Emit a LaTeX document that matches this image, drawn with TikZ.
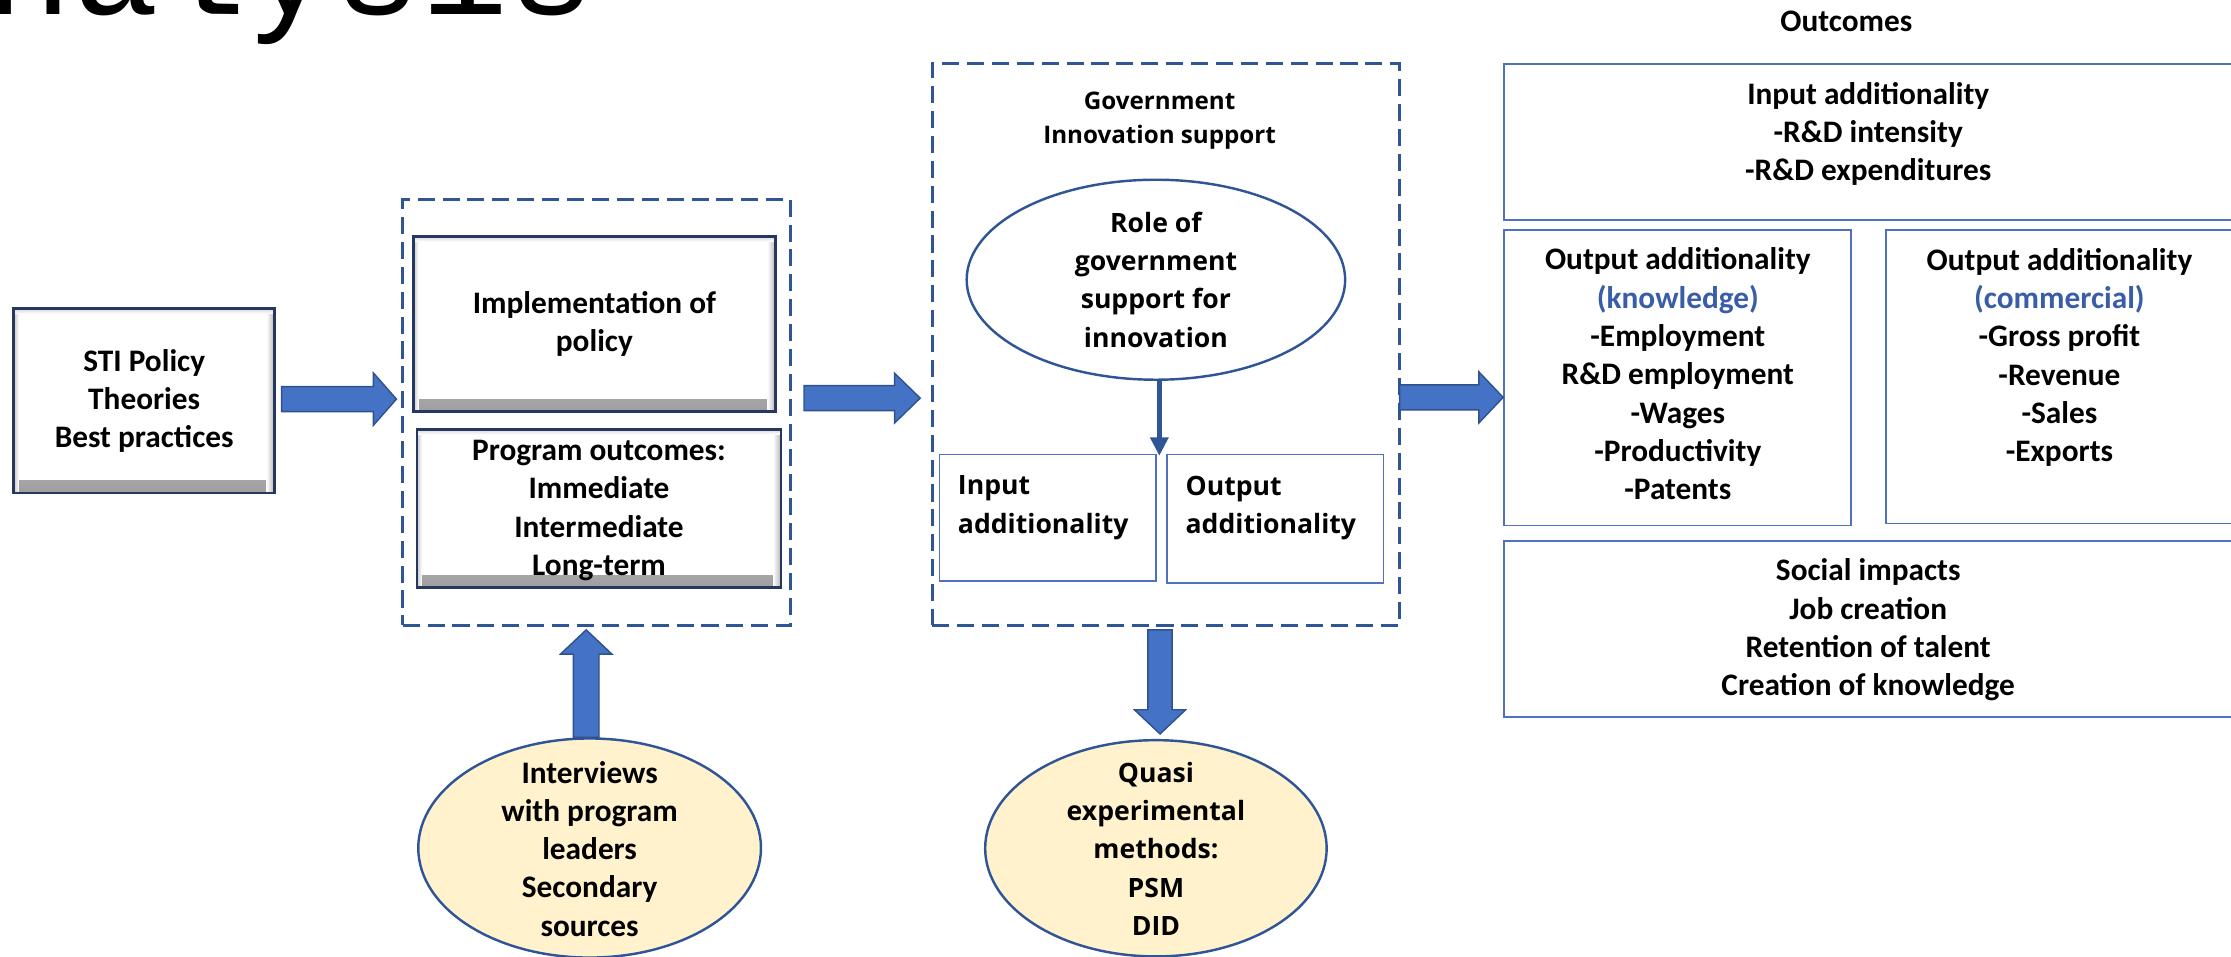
\documentclass[tikz,border=0pt]{standalone}
\usepackage{fontspec}
\setmainfont{Carlito}
\newfontfamily\osans{Open Sans}
\newfontfamily\monof{Liberation Mono}
\usetikzlibrary{calc,fit,shapes.geometric,arrows.meta}
\definecolor{dblue}{HTML}{2F5597}
\definecolor{ablue}{HTML}{4472C4}
\definecolor{aedge}{HTML}{2F528F}
\definecolor{lyel}{HTML}{FFF2CC}
\definecolor{bnavy}{HTML}{26385F}
\definecolor{tblue}{HTML}{4F71BE}
\definecolor{kblue}{HTML}{3A5DA8}
\newcommand{\calb}{\fontsize{15.4pt}{18.83pt}\selectfont\bfseries}
\newcommand{\osb}{\osans\bfseries\fontsize{13.09pt}{18.83pt}\selectfont}
\newcommand{\govf}{\osans\bfseries\fontsize{11.9pt}{16.94pt}\selectfont}
\newcommand{\hbarrow}[5]{%
  \draw[barrow] ($(#1)+(0,-#3)$) -- ($(#2)+(-#5,-#3)$) -- ($(#2)+(-#5,-#4)$) -- (#2)
    -- ($(#2)+(-#5,#4)$) -- ($(#2)+(-#5,#3)$) -- ($(#1)+(0,#3)$) -- cycle;}
\newcommand{\vbarrow}[5]{%
  \draw[barrow] ($(#1)+(-#3,0)$) -- ($(#2)+(-#3,#5)$) -- ($(#2)+(-#4,#5)$) -- (#2)
    -- ($(#2)+(#4,#5)$) -- ($(#2)+(#3,#5)$) -- ($(#1)+(#3,0)$) -- cycle;}
\begin{document}
\begin{tikzpicture}[x=0.7pt,y=-0.7pt,
  bevel/.style={draw=bnavy, line width=1.3pt, fill=white, inner sep=0pt, align=center, font=\calb,
    path picture={
      \shade[top color=white, bottom color=black!38] ([yshift=6pt]path picture bounding box.south west) rectangle (path picture bounding box.south east);
      \shade[left color=white, right color=black!30] ([xshift=-4pt]path picture bounding box.north east) rectangle (path picture bounding box.south east);
      \shade[left color=black!22, right color=white] (path picture bounding box.north west) rectangle ([xshift=2.5pt]path picture bounding box.south west);
      \shade[top color=black!15, bottom color=white] (path picture bounding box.north west) rectangle ([yshift=-2.5pt]path picture bounding box.north east);
    }},
  dashbox/.style={draw=dblue, line width=1.5pt, dash pattern=on 8.4pt off 3.85pt, inner sep=0pt},
  thinbox/.style={draw=tblue, line width=0.8pt, inner sep=0pt},
  oval/.style={ellipse, draw=dblue, line width=1.2pt, fill=lyel, inner sep=0pt},
  barrow/.style={fill=ablue, draw=aedge, line width=0.7pt, line join=miter},
  smallarr/.style={draw=dblue, line width=2.2pt, -{Triangle[width=8.6pt,length=9pt]}},
  caltext/.style={font=\calb, align=center, inner sep=0pt},
  ostext/.style={font=\osb, align=center, inner sep=0pt}
]
\useasboundingbox (0,0) rectangle (1568,672);

% title fragment
\node[anchor=base west, inner sep=0pt, font=\monof\fontsize{71.4pt}{80pt}\selectfont] (title) at (-71.5,10) {Analysis};

% left block
\node[bevel, fit={(9.7,217) (193,346.5)}] (sti) {};
\node[caltext] (stitxt) at (sti.center) {STI Policy\\Theories\\Best practices};

\node[dashbox, fit={(283,140) (555.7,439.6)}] (dash1) {};
\node[bevel, fit={(290.5,166.3) (545,289.3)}] (impl) {};
\node[caltext] (impltxt) at (impl.center) {Implementation of\\policy};
\node[bevel, fit={(293,301.8) (549,412.8)}] (prog) {};
\node[caltext] (progtxt) at ($(prog.center)+(0,1.5)$) {Program outcomes:\\Immediate\\Intermediate\\Long-term};

\node[oval, minimum width=168.6pt, minimum height=107.8pt] (intv) at (414.4,596) {};
\node[caltext] (intvtxt) at (414.4,596.5) {Interviews\\with program\\leaders\\Secondary\\sources};

% middle block
\node[dashbox, fit={(655.3,44.3) (983.3,439.6)}] (dash2) {};
\node[font=\govf, align=center, inner sep=0pt] (govt) at (815,84.6) {Government\\Innovation support};
\node[oval, fill=white, minimum width=186.2pt, minimum height=98.4pt, font=\osb, align=center] (role) at (812.4,196.6) {Role of\\government\\support for\\innovation};
\node[thinbox, fit={(660.2,319.4) (812.5,408.2)}] (inb) {};
\node[thinbox, fit={(820,319.4) (972.3,409.7)}] (outb) {};
\node[font=\osb, align=left, anchor=west, inner sep=0pt] (intxt) at (673,356.9) {Input\\additionality};
\node[font=\osb, align=left, anchor=west, inner sep=0pt] (outtxt) at (833,356.9) {Output\\additionality};

\node[oval, minimum width=168pt, minimum height=106.4pt] (quasi) at (812.4,596.2) {};
\node[ostext] (quasitxt) at (812.4,596.6) {Quasi\\experimental\\methods:\\PSM\\DID};

% right block
\node[anchor=base, font=\calb, inner sep=0pt] (outlbl) at (1297.7,22.3) {Outcomes};
\node[thinbox, fit={(1057,45.2) (1570,154.6)}] (inadd) {};
\node[caltext] (inaddtxt) at (1313,94.2) {Input additionality\\-R\&D intensity\\-R\&D expenditures};
\node[thinbox, fit={(1057,161.7) (1301,369.4)}] (know) {};
\node[caltext] (knowtxt) at (1179.2,262.75) {Output additionality\\\textcolor{kblue}{(knowledge)}\\-Employment\\R\&D employment\\-Wages\\-Productivity\\-Patents};
\node[thinbox, fit={(1325.3,161.7) (1570,367.8)}] (comm) {};
\node[caltext] (commtxt) at (1447.4,251.2) {Output additionality\\\textcolor{kblue}{(commercial)}\\-Gross profit\\-Revenue\\-Sales\\-Exports};
\node[thinbox, fit={(1057,380.2) (1570,503.7)}] (soc) {};
\node[caltext] (soctxt) at (1313,442.7) {Social impacts\\Job creation\\Retention of talent\\Creation of knowledge};

% connectors
\coordinate (a1s) at ($(sti.east)+(4,-1.25)$);
\coordinate (a1e) at ($(dash1.west |- a1s)+(-3.3,0)$);
\hbarrow{a1s}{a1e}{8.75}{18.4}{16.2}

\coordinate (a2s) at ($(dash1.east)+(8.3,-10)$);
\coordinate (a2e) at ($(dash2.west |- a2s)+(-7.5,0)$);
\hbarrow{a2s}{a2e}{8.8}{17.5}{18}

\coordinate (a3s) at ($(dash2.east)+(-0.7,37.35)$);
\coordinate (a3e) at (inadd.west |- a3s);
\hbarrow{a3s}{a3e}{8.8}{17.9}{17}

\coordinate (a5s) at ($(intv.north)+(-2.4,0)$);
\coordinate (a5e) at ($(a5s |- dash1.south)+(0,2)$);
\vbarrow{a5s}{a5e}{9}{18}{17}

\coordinate (a4s) at ($(dash2.south)+(-4,2)$);
\coordinate (a4e) at ($(a4s |- quasi.north)+(0,-3.5)$);
\vbarrow{a4s}{a4e}{8.5}{18}{-17}

\coordinate (sa) at ($(role.south)+(2.4,0)$);
\coordinate (se) at ($(sa |- inb.north)+(0,1.5)$);
\draw[smallarr] (sa) -- (se);
\end{tikzpicture}
\end{document}
